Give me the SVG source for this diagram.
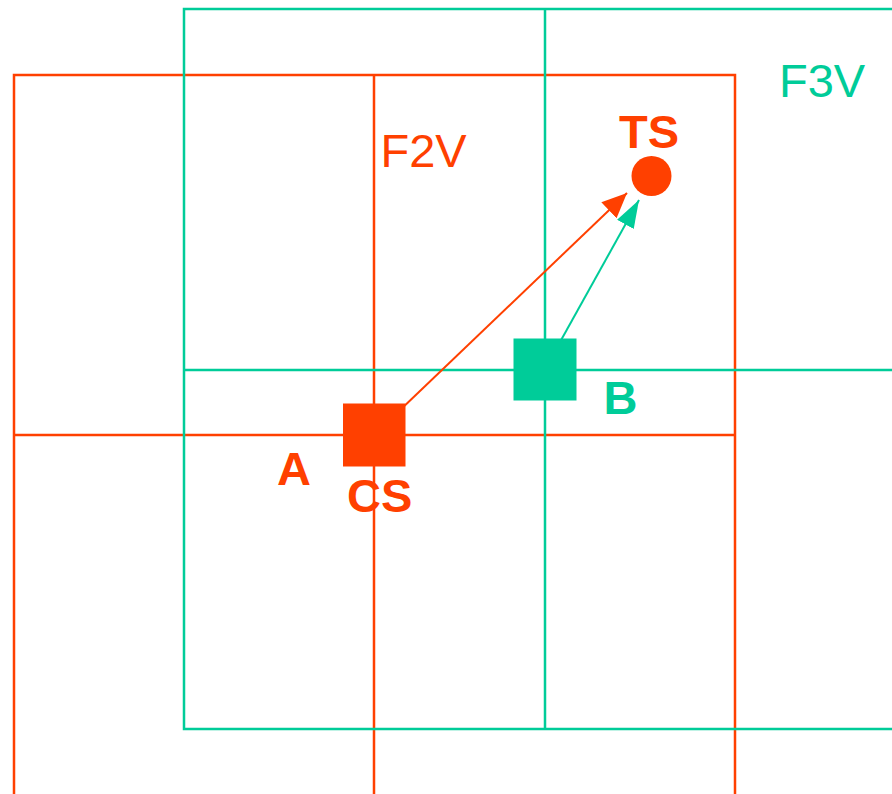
<svg xmlns="http://www.w3.org/2000/svg" width="892" height="794" viewBox="0 0 892 794">
<style>
.r{stroke:#FF4000;fill:none;stroke-width:2.5}
.g{stroke:#00CC99;fill:none;stroke-width:2.5}
.rt{fill:#FF4000;font-family:"Liberation Sans",Arial,sans-serif;font-size:47px}
.gt{fill:#00CC99;font-family:"Liberation Sans",Arial,sans-serif;font-size:47px}
.b{font-weight:bold}
</style>
<defs>
<marker id="ar" markerUnits="userSpaceOnUse" markerWidth="26" markerHeight="24" refX="25" refY="11" orient="auto"><path d="M0,0 L25,11 L0,22 Z" fill="#FF4000"/></marker>
<marker id="ag" markerUnits="userSpaceOnUse" markerWidth="29" markerHeight="21" refX="28" refY="9.5" orient="auto"><path d="M0,0 L28,9.5 L0,19 Z" fill="#00CC99"/></marker>
</defs>
<g id="grid-F2V">
<path class="r" d="M14,796 V75 H735 V796 M14,435 H735 M374,75 V796"/>
</g>
<g id="grid-F3V">
<path class="g" d="M894,9 H184 V729 H894 M184,370 H894 M545,9 V729"/>
</g>
<g id="connectors">
<line x1="374" y1="435" x2="627" y2="193" stroke="#FF4000" stroke-width="2" marker-end="url(#ar)"/>
<line x1="545" y1="369" x2="639" y2="200" stroke="#00CC99" stroke-width="2" marker-end="url(#ag)"/>
</g>
<g id="CS">
<rect x="343" y="403.5" width="62.5" height="63" fill="#FF4000"/>
<text class="rt b" x="347" y="511.7">CS</text>
</g>
<g id="A"><text class="rt b" x="277" y="485">A</text></g>
<g id="B">
<rect x="513.5" y="338.5" width="63" height="62" fill="#00CC99"/>
<text class="gt b" x="603.5" y="414.3">B</text>
</g>
<g id="TS">
<circle cx="651.5" cy="176" r="20" fill="#FF4000"/>
<text class="rt b" x="619" y="148.3">TS</text>
</g>
<g id="F2V"><text class="rt" x="380.5" y="167.3">F2V</text></g>
<g id="F3V"><text class="gt" x="779" y="97.3">F3V</text></g>
</svg>
